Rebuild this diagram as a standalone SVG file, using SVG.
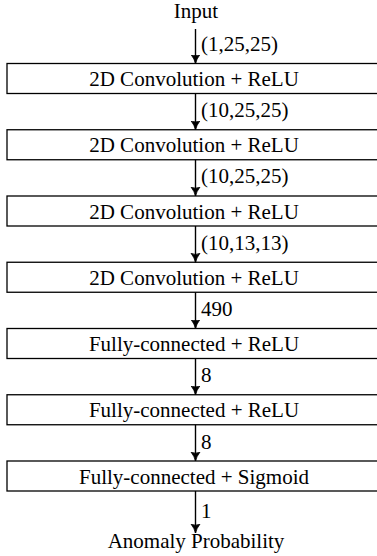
<svg xmlns="http://www.w3.org/2000/svg" width="377" height="556" viewBox="0 0 377 556">
<defs>
<marker id="ah" markerWidth="12" markerHeight="12" refX="9" refY="6" orient="auto" markerUnits="userSpaceOnUse">
<path d="M0,1.5 Q4.5,5 9,6 Q4.5,7 0,10.5 Q2.5,6 0,1.5 Z" fill="#000" stroke="#000" stroke-width="0.8"/>
</marker>
<style>
.box{fill:#fff;stroke:#000;stroke-width:1.3}
.e{stroke:#000;stroke-width:1.4;fill:none;marker-end:url(#ah)}
</style>
</defs>
<rect width="377" height="556" fill="#fff"/>
<g font-family="'Liberation Serif', serif" font-size="21" fill="#000">
<g id="input"><text text-anchor="middle" x="196" y="18">Input</text></g>
<g id="conv1"><rect class="box" x="7" y="63.5" width="372" height="30"/><text text-anchor="middle" x="194" y="86">2D Convolution + ReLU</text></g>
<g id="conv2"><rect class="box" x="7" y="129.75" width="372" height="30"/><text text-anchor="middle" x="194" y="152.25">2D Convolution + ReLU</text></g>
<g id="conv3"><rect class="box" x="7" y="196" width="372" height="30"/><text text-anchor="middle" x="194" y="218.5">2D Convolution + ReLU</text></g>
<g id="conv4"><rect class="box" x="7" y="262.25" width="372" height="30"/><text text-anchor="middle" x="194" y="284.75">2D Convolution + ReLU</text></g>
<g id="fc1"><rect class="box" x="7" y="328.5" width="372" height="30"/><text text-anchor="middle" x="194" y="351">Fully-connected + ReLU</text></g>
<g id="fc2"><rect class="box" x="7" y="394.75" width="372" height="30"/><text text-anchor="middle" x="194" y="417.25">Fully-connected + ReLU</text></g>
<g id="fc3"><rect class="box" x="7" y="461" width="372" height="30"/><text text-anchor="middle" x="194" y="483.5">Fully-connected + Sigmoid</text></g>
<g id="output"><text text-anchor="middle" x="196" y="548">Anomaly Probability</text></g>
<g id="connectors">
<line class="e" x1="195.5" y1="29" x2="195.5" y2="63.5"/>
<line class="e" x1="195.5" y1="93.5" x2="195.5" y2="129.75"/>
<line class="e" x1="195.5" y1="159.75" x2="195.5" y2="196"/>
<line class="e" x1="195.5" y1="226" x2="195.5" y2="262.25"/>
<line class="e" x1="195.5" y1="292.25" x2="195.5" y2="328.5"/>
<line class="e" x1="195.5" y1="358.5" x2="195.5" y2="394.75"/>
<line class="e" x1="195.5" y1="424.75" x2="195.5" y2="461"/>
<line class="e" x1="195.5" y1="491" x2="195.5" y2="533"/>
<text x="201" y="51">(1,25,25)</text>
<text x="201" y="117">(10,25,25)</text>
<text x="201" y="183">(10,25,25)</text>
<text x="201" y="250">(10,13,13)</text>
<text x="201" y="316">490</text>
<text x="201" y="382">8</text>
<text x="201" y="449">8</text>
<text x="201" y="518">1</text>
</g>
</g>
</svg>
